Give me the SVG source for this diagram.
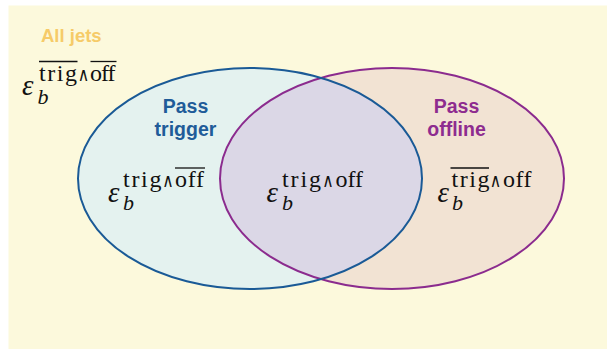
<svg xmlns="http://www.w3.org/2000/svg" width="607" height="349" viewBox="0 0 607 349">
  <style>
    .head { font-family: "Liberation Sans", Arial, sans-serif; font-weight: bold; font-size: 19.5px; text-anchor: middle; }
    .eps { font-family: "Liberation Serif", "DejaVu Serif", serif; font-style: italic; font-size: 29px; fill: #111; }
    .sub { font-family: "Liberation Serif", "DejaVu Serif", serif; font-style: italic; font-size: 22px; fill: #111; }
    .sup { font-family: "Liberation Serif", "DejaVu Serif", serif; font-size: 24px; fill: #111; }
    .wedge { font-family: "DejaVu Sans", "DejaVu Serif", sans-serif; font-weight: 200; font-size: 19px; fill: #111; }
    .bar { stroke: #111; stroke-width: 1.3; }
  </style>
  <defs>
    <clipPath id="clipLeft">
      <ellipse cx="250" cy="178.5" rx="172" ry="110.5"/>
    </clipPath>
  </defs>

  <rect id="background" x="8.5" y="5.5" width="598.5" height="343.5" fill="#FCF9DC"/>

  <g id="pass-trigger-fill">
    <ellipse cx="250" cy="178.5" rx="172" ry="110.5" fill="#E4F2EF"/>
  </g>
  <g id="pass-offline-fill">
    <ellipse cx="392" cy="178.5" rx="172" ry="110.5" fill="#F2E3D3"/>
  </g>
  <g id="intersection-fill">
    <ellipse cx="392" cy="178.5" rx="172" ry="110.5" fill="#DBD7E6" clip-path="url(#clipLeft)"/>
  </g>
  <g id="outlines">
    <ellipse cx="392" cy="178.5" rx="172" ry="110.5" fill="none" stroke="#8B2B8E" stroke-width="2"/>
    <ellipse cx="250" cy="178.5" rx="172" ry="110.5" fill="none" stroke="#1A5A96" stroke-width="2"/>
  </g>

  <g id="all-jets">
    <text x="41" y="41.5" class="head" style="text-anchor:start;font-size:18.5px" fill="#F6CB68">All jets</text>
    <text x="22" y="95" class="eps">ε</text>
    <text x="37.5" y="104" class="sub">b</text>
    <text x="39" y="81" class="sup" textLength="38" lengthAdjust="spacing">trig</text>
    <text x="77.75" y="81" class="wedge" textLength="11.5" lengthAdjust="spacingAndGlyphs">∧</text>
    <text x="90" y="81" class="sup" textLength="25.5" lengthAdjust="spacing">off</text>
    <line class="bar" x1="39" y1="61.5" x2="77.5" y2="61.5"/>
    <line class="bar" x1="90.5" y1="61.5" x2="116.5" y2="61.5"/>
  </g>

  <g id="pass-trigger">
    <text x="185.5" y="113" class="head" fill="#1F5C99">Pass</text>
    <text x="185.5" y="136" class="head" fill="#1F5C99">trigger</text>
    <text x="108" y="201.5" class="eps">ε</text>
    <text x="123" y="209.5" class="sub">b</text>
    <text x="123" y="186.5" class="sup" textLength="38.5" lengthAdjust="spacing">trig</text>
    <text x="162.25" y="186.5" class="wedge" textLength="11.5" lengthAdjust="spacingAndGlyphs">∧</text>
    <text x="175" y="186.5" class="sup" textLength="29" lengthAdjust="spacing">off</text>
    <line class="bar" x1="175" y1="168" x2="205" y2="168"/>
  </g>

  <g id="both">
    <text x="266.5" y="201.5" class="eps">ε</text>
    <text x="282" y="209.5" class="sub">b</text>
    <text x="282" y="186.5" class="sup" textLength="39" lengthAdjust="spacing">trig</text>
    <text x="322.25" y="186.5" class="wedge" textLength="11.5" lengthAdjust="spacingAndGlyphs">∧</text>
    <text x="335.5" y="186.5" class="sup" textLength="27.5" lengthAdjust="spacing">off</text>
  </g>

  <g id="pass-offline">
    <text x="456.5" y="113" class="head" fill="#8E2C8F">Pass</text>
    <text x="456.5" y="136" class="head" fill="#8E2C8F">offline</text>
    <text x="437.5" y="201.5" class="eps">ε</text>
    <text x="452" y="209.5" class="sub">b</text>
    <text x="451.5" y="186.5" class="sup" textLength="38" lengthAdjust="spacing">trig</text>
    <text x="489.75" y="186.5" class="wedge" textLength="11.5" lengthAdjust="spacingAndGlyphs">∧</text>
    <text x="503" y="186.5" class="sup" textLength="28.5" lengthAdjust="spacing">off</text>
    <line class="bar" x1="450.5" y1="168" x2="489" y2="168"/>
  </g>
</svg>
